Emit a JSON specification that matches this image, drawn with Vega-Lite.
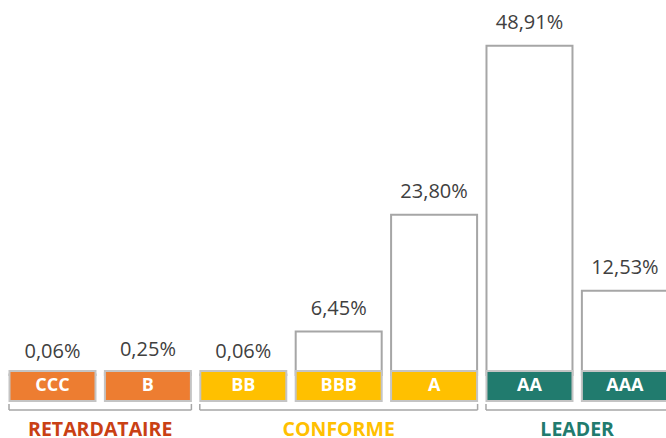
{
  "$schema": "https://vega.github.io/schema/vega-lite/v6.json",
  "width": 666,
  "height": 438,
  "padding": 0,
  "autosize": "none",
  "background": "white",
  "config": {"view": {"stroke": null}, "font": "Open Sans"},
  "data": {
    "values": [
      {"rating": "CCC", "idx": 0, "value": 0.06, "label": "0,06%", "group": "RETARDATAIRE"},
      {"rating": "B", "idx": 1, "value": 0.25, "label": "0,25%", "group": "RETARDATAIRE"},
      {"rating": "BB", "idx": 2, "value": 0.06, "label": "0,06%", "group": "CONFORME"},
      {"rating": "BBB", "idx": 3, "value": 6.45, "label": "6,45%", "group": "CONFORME"},
      {"rating": "A", "idx": 4, "value": 23.80, "label": "23,80%", "group": "CONFORME"},
      {"rating": "AA", "idx": 5, "value": 48.91, "label": "48,91%", "group": "LEADER"},
      {"rating": "AAA", "idx": 6, "value": 12.53, "label": "12,53%", "group": "LEADER"}
    ]
  },
  "layer": [
    {
      "mark": {"type": "bar", "width": 86, "fill": "white", "stroke": "#A6A6A6", "strokeWidth": 2},
      "encoding": {
        "x": {"field": "idx", "type": "quantitative", "scale": {"domain": [-0.5503, 6.431], "nice": false, "zero": false, "padding": 0}, "axis": null},
        "y": {"field": "value", "type": "quantitative", "scale": {"domain": [-9.36, 55.72], "nice": false, "zero": false, "padding": 0}, "axis": null},
        "y2": {"datum": 0}
      }
    },
    {
      "mark": {"type": "text", "fontSize": 20, "color": "#404040", "baseline": "middle", "dy": -23},
      "encoding": {
        "x": {"field": "idx", "type": "quantitative"},
        "y": {"field": "value", "type": "quantitative"},
        "text": {"field": "label"}
      }
    },
    {
      "mark": {"type": "bar", "width": 86, "stroke": "#C4C4C4", "strokeWidth": 2},
      "encoding": {
        "x": {"field": "idx", "type": "quantitative"},
        "y": {"datum": 0.6},
        "y2": {"datum": -3.86},
        "color": {"field": "group", "type": "nominal", "scale": {"domain": ["RETARDATAIRE", "CONFORME", "LEADER"], "range": ["#ED7D31", "#FFC000", "#217B6E"]}, "legend": null}
      }
    },
    {
      "mark": {"type": "text", "fontSize": 18, "fontWeight": "bold", "color": "white", "baseline": "middle"},
      "encoding": {
        "x": {"field": "idx", "type": "quantitative"},
        "y": {"datum": -1.63},
        "text": {"field": "rating"}
      }
    },
    {
      "mark": {"type": "rule", "color": "#A6A6A6", "strokeWidth": 1.5, "xOffset": -43.5, "x2Offset": 43.5},
      "encoding": {
        "x": {"aggregate": "min", "field": "idx", "type": "quantitative"},
        "x2": {"aggregate": "max", "field": "idx"},
        "y": {"datum": -5.2},
        "detail": {"field": "group"}
      }
    },
    {
      "mark": {"type": "rule", "color": "#A6A6A6", "strokeWidth": 1.5, "xOffset": -43.5},
      "encoding": {
        "x": {"aggregate": "min", "field": "idx", "type": "quantitative"},
        "y": {"datum": -4.3},
        "y2": {"datum": -5.2},
        "detail": {"field": "group"}
      }
    },
    {
      "mark": {"type": "rule", "color": "#A6A6A6", "strokeWidth": 1.5, "xOffset": 43.5},
      "encoding": {
        "x": {"aggregate": "max", "field": "idx", "type": "quantitative"},
        "y": {"datum": -4.3},
        "y2": {"datum": -5.2},
        "detail": {"field": "group"}
      }
    },
    {
      "mark": {"type": "text", "fontSize": 19.5, "fontWeight": "bold", "baseline": "alphabetic"},
      "encoding": {
        "x": {"aggregate": "mean", "field": "idx", "type": "quantitative"},
        "y": {"datum": -9.05},
        "text": {"field": "group"},
        "color": {"field": "group", "type": "nominal", "scale": {"domain": ["RETARDATAIRE", "CONFORME", "LEADER"], "range": ["#C94014", "#FFC000", "#217B6E"]}, "legend": null}
      }
    }
  ],
  "resolve": {"scale": {"color": "independent"}}
}
